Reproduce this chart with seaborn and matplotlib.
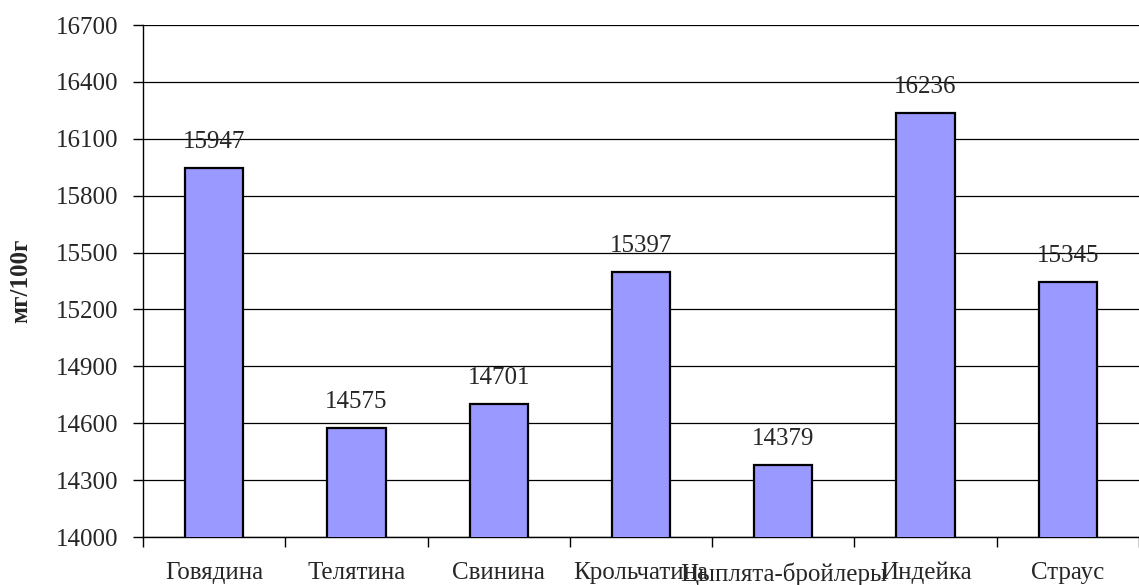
import numpy as np
import pandas as pd
import matplotlib
matplotlib.use("Agg")
import matplotlib.pyplot as plt
import seaborn as sns

# data
categories = ['Говядина', 'Телятина', 'Свинина', 'Крольчатина',
              'Цыплята-бройлеры', 'Индейка', 'Страус']
values = [15947, 14575, 14701, 15397, 14379, 16236, 15345]
y_ticks = list(range(14000, 16701, 300))

sns.set_theme(style="white")
plt.rcParams['font.family'] = ['Liberation Serif', 'DejaVu Serif']

df = pd.DataFrame({'cat': categories, 'val': values})

fig = plt.figure(figsize=(11.39, 5.85), dpi=100)
ax = fig.add_axes([143 / 1139, 48 / 585, 1 - 143 / 1139, 512 / 585])

sns.barplot(data=df, x='cat', y='val', color='#9999FF', edgecolor='black',
            linewidth=1.6, width=0.41, saturation=1, ax=ax, zorder=3)

ax.set_ylim(14000, 16700)
ax.set_xlim(-0.5, len(categories) - 0.5)
ax.set_yticks(y_ticks)
ax.set_yticklabels([str(t) for t in y_ticks], fontsize=18)
ax.yaxis.grid(True, color='black', linewidth=0.9, zorder=0)
ax.set_axisbelow(True)

# category labels in the middle, tick marks at the boundaries
ax.set_xticks(range(len(categories)))
ax.set_xticklabels(categories, fontsize=18)
ax.set_xticks(np.arange(-0.5, len(categories), 1), minor=True)
ax.tick_params(axis='x', which='major', length=0, pad=18)
ax.tick_params(axis='x', which='minor', length=7, width=1, color='black',
               direction='out', bottom=True)
ax.tick_params(axis='y', length=7, width=1, color='black', direction='out',
               left=True, pad=11)

for side in ['top', 'right']:
    ax.spines[side].set_visible(False)
for side in ['left', 'bottom']:
    ax.spines[side].set_color('black')
    ax.spines[side].set_linewidth(1.0)

for i, v in enumerate(values):
    ax.annotate(str(v), (i, v), xytext=(0, 11), textcoords='offset points',
                ha='center', va='bottom', fontsize=18)

ax.set_xlabel('')
ax.set_ylabel('мг/100г', fontsize=18, fontweight='bold', labelpad=17)

fig.savefig('out.png', dpi=100)
